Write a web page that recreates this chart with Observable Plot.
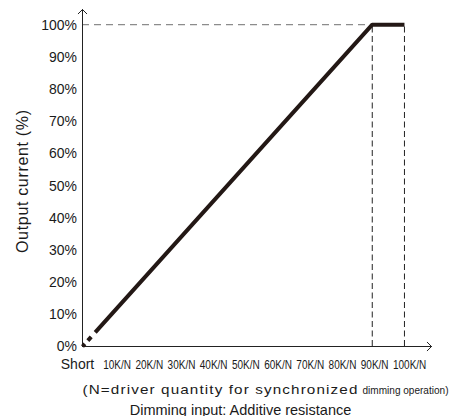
<!DOCTYPE html>
<html>
<head>
<meta charset="utf-8">
<script src="https://cdn.jsdelivr.net/npm/d3@7"></script>
<script src="https://cdn.jsdelivr.net/npm/@observablehq/plot@0.6"></script>
<style>
  html, body { margin: 0; padding: 0; background: #fff; }
  svg { display: block; }
</style>
</head>
<body>
<div id="chart"></div>
<script>
// ---- data ----
const resistance = [0, 90, 100];          // K/N units
const output = [0, 100, 100];             // % output current
const yTicks = [0, 10, 20, 30, 40, 50, 60, 70, 80, 90, 100];
const xTicks = [0, 10, 20, 30, 40, 50, 60, 70, 80, 90, 100];
const xTickLabels = ["Short", "10K/N", "20K/N", "30K/N", "40K/N", "50K/N", "60K/N", "70K/N", "80K/N", "90K/N", "100K/N"];
const plateauEdges = [90, 100];
const fullScale = [100];
const xMax = 108.4;
const yMax = 104.7;
const yLabel = "Output current (%)";
const noteMain = "(N=driver quantity for synchronized";
const noteTail = "dimming operation)";
const xTitle = "Dimming input: Additive resistance";

const curve = resistance.map((x, i) => ({x, y: output[i]}));
const xAxisLine = [{x1: 0, y1: 0, x2: xMax, y2: 0}];
const yAxisLine = [{x1: 0, y1: 0, x2: 0, y2: yMax}];
const FONT = "'Liberation Sans', Arial, sans-serif";
const INK = "#1a1a1a";

const chart = Plot.plot({
  width: 456,
  height: 416,
  marginLeft: 82,
  marginRight: 25,
  marginTop: 9,
  marginBottom: 70,
  style: {fontFamily: FONT, color: INK, background: "#fff", overflow: "visible"},
  x: {domain: [0, xMax], axis: null},
  y: {domain: [0, yMax]},
  marks: [
    Plot.axisY(yTicks, {tickSize: 0, tickPadding: 5.5, fontSize: 15.5, tickFormat: d => d + "%", label: null, fill: INK}),
    Plot.ruleY(fullScale, {x1: 0, x2: plateauEdges[0], stroke: "#8c8c8c", strokeWidth: 1.3, strokeDasharray: "7,5"}),
    Plot.ruleX(plateauEdges, {y1: 0, y2: fullScale[0], stroke: "#222", strokeWidth: 1, strokeDasharray: "6,3.5"}),
    Plot.arrow(yAxisLine, {x1: "x1", y1: "y1", x2: "x2", y2: "y2", stroke: "#222", strokeWidth: 1, headLength: 9, headAngle: 90}),
    Plot.arrow(xAxisLine, {x1: "x1", y1: "y1", x2: "x2", y2: "y2", stroke: "#222", strokeWidth: 1, headLength: 9, headAngle: 90}),
    Plot.line(curve, {x: "x", y: "y", stroke: "#231815", strokeWidth: 4, strokeDasharray: "3.5,4.5,5,6,3000", strokeLinecap: "butt", strokeLinejoin: "miter"}),
    // x tick labels
    Plot.text(xTickLabels.slice(0, 1), {x: xTicks[0], text: d => d, frameAnchor: "bottom", dx: -5, dy: 22.3, lineAnchor: "bottom", fontSize: 14, fill: INK}),
    Plot.text(xTicks.slice(1), {x: d => d, text: (d, i) => xTickLabels[i + 1], frameAnchor: "bottom", textAnchor: "start", dx: -11.5, dy: 22.3, lineAnchor: "bottom", fontSize: 12.5, fill: INK, className: "xtick"}),
    // y title
    Plot.text([yLabel], {frameAnchor: "left", textAnchor: "middle", rotate: -90, dx: -60, dy: 3.5, fontSize: 16, fill: INK, className: "ytitle"}),
    // notes
    Plot.text([noteMain], {frameAnchor: "bottom-left", textAnchor: "start", dy: 47, lineAnchor: "bottom", fontSize: 13.5, fill: INK, className: "notemain"}),
    Plot.text([noteTail], {frameAnchor: "bottom-left", textAnchor: "start", dx: 280, dy: 47, lineAnchor: "bottom", fontSize: 11, fill: INK, className: "notetail"}),
    Plot.text([xTitle], {frameAnchor: "bottom", dx: -16.5, dy: 68, lineAnchor: "bottom", fontSize: 14.5, fill: INK})
  ]
});

document.getElementById("chart").append(chart);

const condense = (sel, k) => d3.select(chart).selectAll(sel).each(function() {
  const w = this.getComputedTextLength();
  d3.select(this).attr("textLength", w * k).attr("lengthAdjust", "spacingAndGlyphs");
});
// narrow faces like the original artwork
condense(".xtick text", 0.8);
condense("g[aria-label='y-axis tick label'] text", 0.9);
d3.select(chart).selectAll(".notemain text").style("letter-spacing", "1px").attr("textLength", 276).attr("lengthAdjust", "spacingAndGlyphs");
d3.select(chart).selectAll(".notetail text").attr("textLength", 86).attr("lengthAdjust", "spacingAndGlyphs");
d3.select(chart).selectAll(".ytitle text").attr("textLength", 143);
</script>
</body>
</html>
